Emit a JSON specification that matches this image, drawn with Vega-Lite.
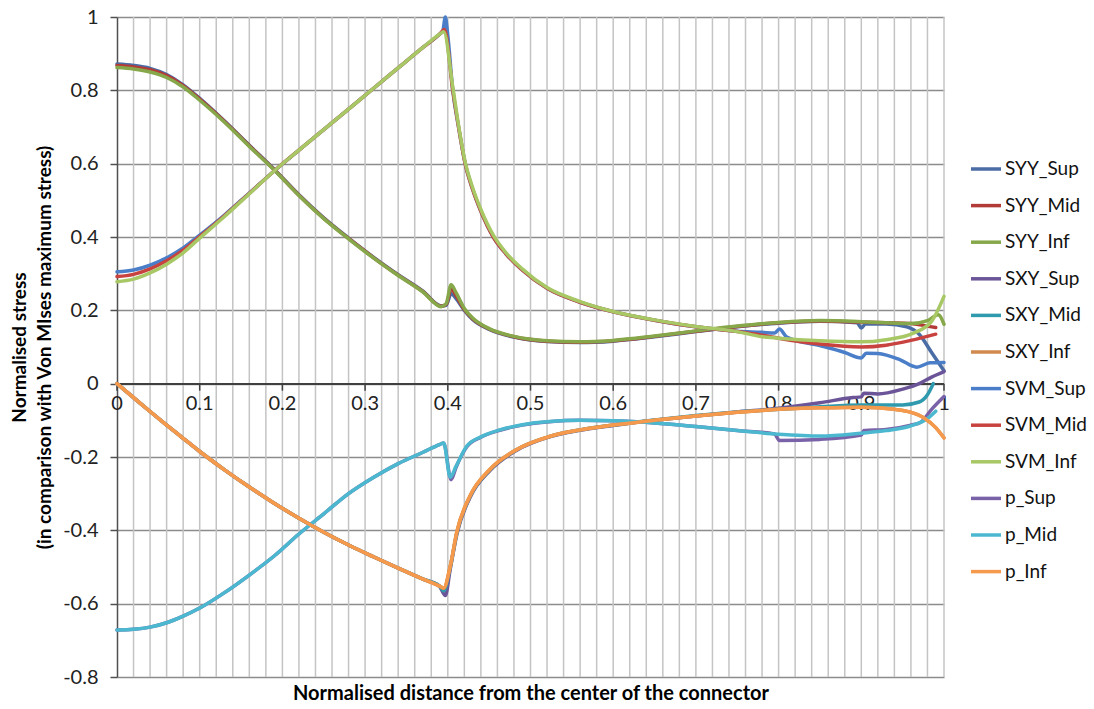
{
"$schema":"https://vega.github.io/schema/vega-lite/v6.json",
"width":827,"height":660,
"autosize":{"type":"none"},
"padding":{"left":117,"top":17,"right":150,"bottom":32},
"background":"white",
"config":{"view":{"stroke":null},"font":"Lato",
"legend":{"orient":"none","legendX":852,"legendY":135,"labelFont":"Lato","labelFontSize":19,"labelColor":"#111111","symbolType":"stroke","symbolStrokeWidth":3.5,"symbolSize":900,"rowPadding":9.6,"labelOffset":2,"padding":0}},
"datasets":{
"grid":[{"x":0.02},{"x":0.04},{"x":0.06},{"x":0.08},{"x":0.1},{"x":0.12},{"x":0.14},{"x":0.16},{"x":0.18},{"x":0.2},{"x":0.22},{"x":0.24},{"x":0.26},{"x":0.28},{"x":0.3},{"x":0.32},{"x":0.34},{"x":0.36},{"x":0.38},{"x":0.4},{"x":0.42},{"x":0.44},{"x":0.46},{"x":0.48},{"x":0.5},{"x":0.52},{"x":0.54},{"x":0.56},{"x":0.58},{"x":0.6},{"x":0.62},{"x":0.64},{"x":0.66},{"x":0.68},{"x":0.7},{"x":0.72},{"x":0.74},{"x":0.76},{"x":0.78},{"x":0.8},{"x":0.82},{"x":0.84},{"x":0.86},{"x":0.88},{"x":0.9},{"x":0.92},{"x":0.94},{"x":0.96},{"x":0.98},{"x":1}],
"ticks":[{"x":0,"label":"0"},{"x":0.1,"label":"0.1"},{"x":0.2,"label":"0.2"},{"x":0.3,"label":"0.3"},{"x":0.4,"label":"0.4"},{"x":0.5,"label":"0.5"},{"x":0.6,"label":"0.6"},{"x":0.7,"label":"0.7"},{"x":0.8,"label":"0.8"},{"x":0.9,"label":"0.9"},{"x":1,"label":"1"}],
"lines":[
{"s":"SYY_Sup","x":0,"y":0.872},{"s":"SYY_Sup","x":0.02,"y":0.868},{"s":"SYY_Sup","x":0.04,"y":0.86},{"s":"SYY_Sup","x":0.06,"y":0.843},{"s":"SYY_Sup","x":0.08,"y":0.815},{"s":"SYY_Sup","x":0.1,"y":0.778},{"s":"SYY_Sup","x":0.13,"y":0.716},{"s":"SYY_Sup","x":0.16,"y":0.65},{"s":"SYY_Sup","x":0.19,"y":0.585},{"s":"SYY_Sup","x":0.22,"y":0.515},{"s":"SYY_Sup","x":0.25,"y":0.452},{"s":"SYY_Sup","x":0.28,"y":0.397},{"s":"SYY_Sup","x":0.31,"y":0.345},{"s":"SYY_Sup","x":0.34,"y":0.297},{"s":"SYY_Sup","x":0.37,"y":0.252},{"s":"SYY_Sup","x":0.392,"y":0.212},{"s":"SYY_Sup","x":0.398,"y":0.214},{"s":"SYY_Sup","x":0.404,"y":0.245},{"s":"SYY_Sup","x":0.41,"y":0.232},{"s":"SYY_Sup","x":0.42,"y":0.2},{"s":"SYY_Sup","x":0.43,"y":0.175},{"s":"SYY_Sup","x":0.45,"y":0.148},{"s":"SYY_Sup","x":0.48,"y":0.127},{"s":"SYY_Sup","x":0.52,"y":0.115},{"s":"SYY_Sup","x":0.56,"y":0.112},{"s":"SYY_Sup","x":0.6,"y":0.116},{"s":"SYY_Sup","x":0.65,"y":0.128},{"s":"SYY_Sup","x":0.7,"y":0.142},{"s":"SYY_Sup","x":0.75,"y":0.155},{"s":"SYY_Sup","x":0.8,"y":0.165},{"s":"SYY_Sup","x":0.85,"y":0.17},{"s":"SYY_Sup","x":0.895,"y":0.166},{"s":"SYY_Sup","x":0.9,"y":0.152},{"s":"SYY_Sup","x":0.905,"y":0.163},{"s":"SYY_Sup","x":0.93,"y":0.163},{"s":"SYY_Sup","x":0.955,"y":0.155},{"s":"SYY_Sup","x":0.97,"y":0.135},{"s":"SYY_Sup","x":0.985,"y":0.085},{"s":"SYY_Sup","x":1,"y":0.035},
{"s":"SYY_Mid","x":0,"y":0.868},{"s":"SYY_Mid","x":0.02,"y":0.864},{"s":"SYY_Mid","x":0.04,"y":0.856},{"s":"SYY_Mid","x":0.06,"y":0.84},{"s":"SYY_Mid","x":0.08,"y":0.813},{"s":"SYY_Mid","x":0.1,"y":0.776},{"s":"SYY_Mid","x":0.13,"y":0.715},{"s":"SYY_Mid","x":0.16,"y":0.649},{"s":"SYY_Mid","x":0.19,"y":0.584},{"s":"SYY_Mid","x":0.22,"y":0.514},{"s":"SYY_Mid","x":0.25,"y":0.451},{"s":"SYY_Mid","x":0.28,"y":0.396},{"s":"SYY_Mid","x":0.31,"y":0.344},{"s":"SYY_Mid","x":0.34,"y":0.296},{"s":"SYY_Mid","x":0.37,"y":0.251},{"s":"SYY_Mid","x":0.392,"y":0.211},{"s":"SYY_Mid","x":0.398,"y":0.216},{"s":"SYY_Mid","x":0.404,"y":0.258},{"s":"SYY_Mid","x":0.41,"y":0.24},{"s":"SYY_Mid","x":0.42,"y":0.202},{"s":"SYY_Mid","x":0.43,"y":0.177},{"s":"SYY_Mid","x":0.45,"y":0.149},{"s":"SYY_Mid","x":0.48,"y":0.128},{"s":"SYY_Mid","x":0.52,"y":0.116},{"s":"SYY_Mid","x":0.56,"y":0.113},{"s":"SYY_Mid","x":0.6,"y":0.117},{"s":"SYY_Mid","x":0.65,"y":0.129},{"s":"SYY_Mid","x":0.7,"y":0.143},{"s":"SYY_Mid","x":0.75,"y":0.156},{"s":"SYY_Mid","x":0.8,"y":0.166},{"s":"SYY_Mid","x":0.85,"y":0.171},{"s":"SYY_Mid","x":0.9,"y":0.168},{"s":"SYY_Mid","x":0.93,"y":0.166},{"s":"SYY_Mid","x":0.96,"y":0.164},{"s":"SYY_Mid","x":0.975,"y":0.159},{"s":"SYY_Mid","x":0.99,"y":0.153},
{"s":"SYY_Inf","x":0,"y":0.862},{"s":"SYY_Inf","x":0.02,"y":0.858},{"s":"SYY_Inf","x":0.04,"y":0.85},{"s":"SYY_Inf","x":0.06,"y":0.835},{"s":"SYY_Inf","x":0.08,"y":0.809},{"s":"SYY_Inf","x":0.1,"y":0.773},{"s":"SYY_Inf","x":0.13,"y":0.713},{"s":"SYY_Inf","x":0.16,"y":0.647},{"s":"SYY_Inf","x":0.19,"y":0.583},{"s":"SYY_Inf","x":0.22,"y":0.513},{"s":"SYY_Inf","x":0.25,"y":0.45},{"s":"SYY_Inf","x":0.28,"y":0.395},{"s":"SYY_Inf","x":0.31,"y":0.343},{"s":"SYY_Inf","x":0.34,"y":0.295},{"s":"SYY_Inf","x":0.37,"y":0.25},{"s":"SYY_Inf","x":0.392,"y":0.21},{"s":"SYY_Inf","x":0.398,"y":0.218},{"s":"SYY_Inf","x":0.404,"y":0.27},{"s":"SYY_Inf","x":0.41,"y":0.248},{"s":"SYY_Inf","x":0.42,"y":0.205},{"s":"SYY_Inf","x":0.43,"y":0.179},{"s":"SYY_Inf","x":0.45,"y":0.15},{"s":"SYY_Inf","x":0.48,"y":0.129},{"s":"SYY_Inf","x":0.52,"y":0.117},{"s":"SYY_Inf","x":0.56,"y":0.114},{"s":"SYY_Inf","x":0.6,"y":0.118},{"s":"SYY_Inf","x":0.65,"y":0.13},{"s":"SYY_Inf","x":0.7,"y":0.144},{"s":"SYY_Inf","x":0.75,"y":0.157},{"s":"SYY_Inf","x":0.8,"y":0.167},{"s":"SYY_Inf","x":0.85,"y":0.172},{"s":"SYY_Inf","x":0.9,"y":0.169},{"s":"SYY_Inf","x":0.93,"y":0.166},{"s":"SYY_Inf","x":0.96,"y":0.164},{"s":"SYY_Inf","x":0.98,"y":0.172},{"s":"SYY_Inf","x":0.993,"y":0.188},{"s":"SYY_Inf","x":1,"y":0.162},
{"s":"SXY_Sup","x":0,"y":0},{"s":"SXY_Sup","x":0.02,"y":-0.038},{"s":"SXY_Sup","x":0.04,"y":-0.076},{"s":"SXY_Sup","x":0.06,"y":-0.113},{"s":"SXY_Sup","x":0.08,"y":-0.149},{"s":"SXY_Sup","x":0.1,"y":-0.185},{"s":"SXY_Sup","x":0.13,"y":-0.235},{"s":"SXY_Sup","x":0.16,"y":-0.282},{"s":"SXY_Sup","x":0.19,"y":-0.326},{"s":"SXY_Sup","x":0.22,"y":-0.367},{"s":"SXY_Sup","x":0.25,"y":-0.405},{"s":"SXY_Sup","x":0.28,"y":-0.44},{"s":"SXY_Sup","x":0.31,"y":-0.472},{"s":"SXY_Sup","x":0.34,"y":-0.503},{"s":"SXY_Sup","x":0.37,"y":-0.533},{"s":"SXY_Sup","x":0.39,"y":-0.553},{"s":"SXY_Sup","x":0.397,"y":-0.578},{"s":"SXY_Sup","x":0.403,"y":-0.505},{"s":"SXY_Sup","x":0.411,"y":-0.41},{"s":"SXY_Sup","x":0.427,"y":-0.31},{"s":"SXY_Sup","x":0.451,"y":-0.237},{"s":"SXY_Sup","x":0.483,"y":-0.182},{"s":"SXY_Sup","x":0.523,"y":-0.145},{"s":"SXY_Sup","x":0.56,"y":-0.127},{"s":"SXY_Sup","x":0.6,"y":-0.114},{"s":"SXY_Sup","x":0.65,"y":-0.1},{"s":"SXY_Sup","x":0.7,"y":-0.088},{"s":"SXY_Sup","x":0.75,"y":-0.077},{"s":"SXY_Sup","x":0.8,"y":-0.067},{"s":"SXY_Sup","x":0.85,"y":-0.052},{"s":"SXY_Sup","x":0.89,"y":-0.038},{"s":"SXY_Sup","x":0.9,"y":-0.036},{"s":"SXY_Sup","x":0.903,"y":-0.026},{"s":"SXY_Sup","x":0.92,"y":-0.028},{"s":"SXY_Sup","x":0.95,"y":-0.015},{"s":"SXY_Sup","x":0.97,"y":0},{"s":"SXY_Sup","x":0.985,"y":0.018},{"s":"SXY_Sup","x":1,"y":0.033},
{"s":"SXY_Mid","x":0,"y":0},{"s":"SXY_Mid","x":0.02,"y":-0.038},{"s":"SXY_Mid","x":0.04,"y":-0.076},{"s":"SXY_Mid","x":0.06,"y":-0.113},{"s":"SXY_Mid","x":0.08,"y":-0.149},{"s":"SXY_Mid","x":0.1,"y":-0.185},{"s":"SXY_Mid","x":0.13,"y":-0.235},{"s":"SXY_Mid","x":0.16,"y":-0.282},{"s":"SXY_Mid","x":0.19,"y":-0.326},{"s":"SXY_Mid","x":0.22,"y":-0.367},{"s":"SXY_Mid","x":0.25,"y":-0.405},{"s":"SXY_Mid","x":0.28,"y":-0.44},{"s":"SXY_Mid","x":0.31,"y":-0.472},{"s":"SXY_Mid","x":0.34,"y":-0.503},{"s":"SXY_Mid","x":0.37,"y":-0.533},{"s":"SXY_Mid","x":0.39,"y":-0.552},{"s":"SXY_Mid","x":0.395,"y":-0.565},{"s":"SXY_Mid","x":0.403,"y":-0.5},{"s":"SXY_Mid","x":0.411,"y":-0.406},{"s":"SXY_Mid","x":0.427,"y":-0.307},{"s":"SXY_Mid","x":0.451,"y":-0.235},{"s":"SXY_Mid","x":0.483,"y":-0.18},{"s":"SXY_Mid","x":0.523,"y":-0.144},{"s":"SXY_Mid","x":0.56,"y":-0.126},{"s":"SXY_Mid","x":0.6,"y":-0.113},{"s":"SXY_Mid","x":0.65,"y":-0.099},{"s":"SXY_Mid","x":0.7,"y":-0.087},{"s":"SXY_Mid","x":0.75,"y":-0.077},{"s":"SXY_Mid","x":0.8,"y":-0.07},{"s":"SXY_Mid","x":0.85,"y":-0.063},{"s":"SXY_Mid","x":0.9,"y":-0.058},{"s":"SXY_Mid","x":0.95,"y":-0.058},{"s":"SXY_Mid","x":0.97,"y":-0.05},{"s":"SXY_Mid","x":0.98,"y":-0.03},{"s":"SXY_Mid","x":0.987,"y":0},
{"s":"SXY_Inf","x":0,"y":0},{"s":"SXY_Inf","x":0.02,"y":-0.038},{"s":"SXY_Inf","x":0.04,"y":-0.076},{"s":"SXY_Inf","x":0.06,"y":-0.113},{"s":"SXY_Inf","x":0.08,"y":-0.149},{"s":"SXY_Inf","x":0.1,"y":-0.185},{"s":"SXY_Inf","x":0.13,"y":-0.235},{"s":"SXY_Inf","x":0.16,"y":-0.282},{"s":"SXY_Inf","x":0.19,"y":-0.326},{"s":"SXY_Inf","x":0.22,"y":-0.367},{"s":"SXY_Inf","x":0.25,"y":-0.405},{"s":"SXY_Inf","x":0.28,"y":-0.44},{"s":"SXY_Inf","x":0.31,"y":-0.472},{"s":"SXY_Inf","x":0.34,"y":-0.503},{"s":"SXY_Inf","x":0.37,"y":-0.533},{"s":"SXY_Inf","x":0.39,"y":-0.552},{"s":"SXY_Inf","x":0.395,"y":-0.558},{"s":"SXY_Inf","x":0.403,"y":-0.498},{"s":"SXY_Inf","x":0.411,"y":-0.404},{"s":"SXY_Inf","x":0.427,"y":-0.306},{"s":"SXY_Inf","x":0.451,"y":-0.234},{"s":"SXY_Inf","x":0.483,"y":-0.18},{"s":"SXY_Inf","x":0.523,"y":-0.144},{"s":"SXY_Inf","x":0.56,"y":-0.126},{"s":"SXY_Inf","x":0.6,"y":-0.113},{"s":"SXY_Inf","x":0.65,"y":-0.1},{"s":"SXY_Inf","x":0.7,"y":-0.088},{"s":"SXY_Inf","x":0.75,"y":-0.078},{"s":"SXY_Inf","x":0.8,"y":-0.07},{"s":"SXY_Inf","x":0.85,"y":-0.066},{"s":"SXY_Inf","x":0.9,"y":-0.064},{"s":"SXY_Inf","x":0.94,"y":-0.07},{"s":"SXY_Inf","x":0.96,"y":-0.078},{"s":"SXY_Inf","x":0.975,"y":-0.092},{"s":"SXY_Inf","x":0.99,"y":-0.12},{"s":"SXY_Inf","x":1,"y":-0.148},
{"s":"SVM_Sup","x":0,"y":0.305},{"s":"SVM_Sup","x":0.02,"y":0.31},{"s":"SVM_Sup","x":0.04,"y":0.323},{"s":"SVM_Sup","x":0.06,"y":0.343},{"s":"SVM_Sup","x":0.08,"y":0.37},{"s":"SVM_Sup","x":0.1,"y":0.405},{"s":"SVM_Sup","x":0.13,"y":0.46},{"s":"SVM_Sup","x":0.16,"y":0.52},{"s":"SVM_Sup","x":0.19,"y":0.58},{"s":"SVM_Sup","x":0.22,"y":0.637},{"s":"SVM_Sup","x":0.25,"y":0.693},{"s":"SVM_Sup","x":0.28,"y":0.749},{"s":"SVM_Sup","x":0.31,"y":0.805},{"s":"SVM_Sup","x":0.34,"y":0.861},{"s":"SVM_Sup","x":0.37,"y":0.917},{"s":"SVM_Sup","x":0.39,"y":0.953},{"s":"SVM_Sup","x":0.394,"y":0.962},{"s":"SVM_Sup","x":0.397,"y":1.0},{"s":"SVM_Sup","x":0.4,"y":0.95},{"s":"SVM_Sup","x":0.406,"y":0.8},{"s":"SVM_Sup","x":0.413,"y":0.7},{"s":"SVM_Sup","x":0.421,"y":0.6},{"s":"SVM_Sup","x":0.43,"y":0.53},{"s":"SVM_Sup","x":0.44,"y":0.47},{"s":"SVM_Sup","x":0.455,"y":0.4},{"s":"SVM_Sup","x":0.47,"y":0.355},{"s":"SVM_Sup","x":0.49,"y":0.31},{"s":"SVM_Sup","x":0.52,"y":0.26},{"s":"SVM_Sup","x":0.56,"y":0.222},{"s":"SVM_Sup","x":0.6,"y":0.196},{"s":"SVM_Sup","x":0.65,"y":0.173},{"s":"SVM_Sup","x":0.7,"y":0.155},{"s":"SVM_Sup","x":0.75,"y":0.143},{"s":"SVM_Sup","x":0.78,"y":0.14},{"s":"SVM_Sup","x":0.795,"y":0.138},{"s":"SVM_Sup","x":0.801,"y":0.149},{"s":"SVM_Sup","x":0.81,"y":0.127},{"s":"SVM_Sup","x":0.85,"y":0.104},{"s":"SVM_Sup","x":0.88,"y":0.085},{"s":"SVM_Sup","x":0.9,"y":0.07},{"s":"SVM_Sup","x":0.906,"y":0.083},{"s":"SVM_Sup","x":0.92,"y":0.082},{"s":"SVM_Sup","x":0.947,"y":0.065},{"s":"SVM_Sup","x":0.967,"y":0.045},{"s":"SVM_Sup","x":0.983,"y":0.057},{"s":"SVM_Sup","x":1,"y":0.058},
{"s":"SVM_Mid","x":0,"y":0.292},{"s":"SVM_Mid","x":0.02,"y":0.298},{"s":"SVM_Mid","x":0.04,"y":0.313},{"s":"SVM_Mid","x":0.06,"y":0.335},{"s":"SVM_Mid","x":0.08,"y":0.364},{"s":"SVM_Mid","x":0.1,"y":0.401},{"s":"SVM_Mid","x":0.13,"y":0.458},{"s":"SVM_Mid","x":0.16,"y":0.519},{"s":"SVM_Mid","x":0.19,"y":0.58},{"s":"SVM_Mid","x":0.22,"y":0.637},{"s":"SVM_Mid","x":0.25,"y":0.693},{"s":"SVM_Mid","x":0.28,"y":0.749},{"s":"SVM_Mid","x":0.31,"y":0.805},{"s":"SVM_Mid","x":0.34,"y":0.861},{"s":"SVM_Mid","x":0.37,"y":0.917},{"s":"SVM_Mid","x":0.39,"y":0.953},{"s":"SVM_Mid","x":0.396,"y":0.966},{"s":"SVM_Mid","x":0.406,"y":0.8},{"s":"SVM_Mid","x":0.413,"y":0.7},{"s":"SVM_Mid","x":0.421,"y":0.6},{"s":"SVM_Mid","x":0.43,"y":0.53},{"s":"SVM_Mid","x":0.44,"y":0.47},{"s":"SVM_Mid","x":0.455,"y":0.4},{"s":"SVM_Mid","x":0.47,"y":0.355},{"s":"SVM_Mid","x":0.49,"y":0.31},{"s":"SVM_Mid","x":0.52,"y":0.26},{"s":"SVM_Mid","x":0.56,"y":0.222},{"s":"SVM_Mid","x":0.6,"y":0.196},{"s":"SVM_Mid","x":0.65,"y":0.173},{"s":"SVM_Mid","x":0.7,"y":0.155},{"s":"SVM_Mid","x":0.75,"y":0.142},{"s":"SVM_Mid","x":0.78,"y":0.132},{"s":"SVM_Mid","x":0.8,"y":0.124},{"s":"SVM_Mid","x":0.85,"y":0.108},{"s":"SVM_Mid","x":0.9,"y":0.1},{"s":"SVM_Mid","x":0.93,"y":0.105},{"s":"SVM_Mid","x":0.96,"y":0.118},{"s":"SVM_Mid","x":0.99,"y":0.135},
{"s":"SVM_Inf","x":0,"y":0.278},{"s":"SVM_Inf","x":0.02,"y":0.285},{"s":"SVM_Inf","x":0.04,"y":0.302},{"s":"SVM_Inf","x":0.06,"y":0.326},{"s":"SVM_Inf","x":0.08,"y":0.357},{"s":"SVM_Inf","x":0.1,"y":0.397},{"s":"SVM_Inf","x":0.13,"y":0.456},{"s":"SVM_Inf","x":0.16,"y":0.518},{"s":"SVM_Inf","x":0.19,"y":0.58},{"s":"SVM_Inf","x":0.22,"y":0.637},{"s":"SVM_Inf","x":0.25,"y":0.693},{"s":"SVM_Inf","x":0.28,"y":0.749},{"s":"SVM_Inf","x":0.31,"y":0.805},{"s":"SVM_Inf","x":0.34,"y":0.861},{"s":"SVM_Inf","x":0.37,"y":0.917},{"s":"SVM_Inf","x":0.39,"y":0.953},{"s":"SVM_Inf","x":0.395,"y":0.96},{"s":"SVM_Inf","x":0.406,"y":0.81},{"s":"SVM_Inf","x":0.413,"y":0.705},{"s":"SVM_Inf","x":0.421,"y":0.605},{"s":"SVM_Inf","x":0.43,"y":0.535},{"s":"SVM_Inf","x":0.44,"y":0.475},{"s":"SVM_Inf","x":0.455,"y":0.405},{"s":"SVM_Inf","x":0.47,"y":0.358},{"s":"SVM_Inf","x":0.49,"y":0.313},{"s":"SVM_Inf","x":0.52,"y":0.262},{"s":"SVM_Inf","x":0.56,"y":0.224},{"s":"SVM_Inf","x":0.6,"y":0.197},{"s":"SVM_Inf","x":0.65,"y":0.174},{"s":"SVM_Inf","x":0.7,"y":0.156},{"s":"SVM_Inf","x":0.75,"y":0.142},{"s":"SVM_Inf","x":0.78,"y":0.128},{"s":"SVM_Inf","x":0.8,"y":0.124},{"s":"SVM_Inf","x":0.85,"y":0.117},{"s":"SVM_Inf","x":0.9,"y":0.114},{"s":"SVM_Inf","x":0.93,"y":0.12},{"s":"SVM_Inf","x":0.963,"y":0.138},{"s":"SVM_Inf","x":0.985,"y":0.17},{"s":"SVM_Inf","x":1,"y":0.238},
{"s":"p_Sup","x":0,"y":-0.672},{"s":"p_Sup","x":0.02,"y":-0.67},{"s":"p_Sup","x":0.04,"y":-0.664},{"s":"p_Sup","x":0.06,"y":-0.652},{"s":"p_Sup","x":0.08,"y":-0.634},{"s":"p_Sup","x":0.1,"y":-0.612},{"s":"p_Sup","x":0.13,"y":-0.57},{"s":"p_Sup","x":0.16,"y":-0.522},{"s":"p_Sup","x":0.19,"y":-0.47},{"s":"p_Sup","x":0.22,"y":-0.41},{"s":"p_Sup","x":0.25,"y":-0.355},{"s":"p_Sup","x":0.28,"y":-0.3},{"s":"p_Sup","x":0.31,"y":-0.256},{"s":"p_Sup","x":0.34,"y":-0.218},{"s":"p_Sup","x":0.37,"y":-0.187},{"s":"p_Sup","x":0.39,"y":-0.166},{"s":"p_Sup","x":0.395,"y":-0.162},{"s":"p_Sup","x":0.404,"y":-0.262},{"s":"p_Sup","x":0.41,"y":-0.228},{"s":"p_Sup","x":0.423,"y":-0.172},{"s":"p_Sup","x":0.44,"y":-0.146},{"s":"p_Sup","x":0.463,"y":-0.127},{"s":"p_Sup","x":0.49,"y":-0.113},{"s":"p_Sup","x":0.523,"y":-0.104},{"s":"p_Sup","x":0.56,"y":-0.1},{"s":"p_Sup","x":0.6,"y":-0.101},{"s":"p_Sup","x":0.65,"y":-0.107},{"s":"p_Sup","x":0.7,"y":-0.117},{"s":"p_Sup","x":0.75,"y":-0.128},{"s":"p_Sup","x":0.795,"y":-0.137},{"s":"p_Sup","x":0.801,"y":-0.155},{"s":"p_Sup","x":0.85,"y":-0.152},{"s":"p_Sup","x":0.9,"y":-0.14},{"s":"p_Sup","x":0.903,"y":-0.128},{"s":"p_Sup","x":0.93,"y":-0.125},{"s":"p_Sup","x":0.96,"y":-0.113},{"s":"p_Sup","x":0.972,"y":-0.105},{"s":"p_Sup","x":0.985,"y":-0.07},{"s":"p_Sup","x":1,"y":-0.035},
{"s":"p_Mid","x":0,"y":-0.672},{"s":"p_Mid","x":0.02,"y":-0.67},{"s":"p_Mid","x":0.04,"y":-0.664},{"s":"p_Mid","x":0.06,"y":-0.652},{"s":"p_Mid","x":0.08,"y":-0.634},{"s":"p_Mid","x":0.1,"y":-0.612},{"s":"p_Mid","x":0.13,"y":-0.57},{"s":"p_Mid","x":0.16,"y":-0.522},{"s":"p_Mid","x":0.19,"y":-0.47},{"s":"p_Mid","x":0.22,"y":-0.41},{"s":"p_Mid","x":0.25,"y":-0.355},{"s":"p_Mid","x":0.28,"y":-0.3},{"s":"p_Mid","x":0.31,"y":-0.256},{"s":"p_Mid","x":0.34,"y":-0.218},{"s":"p_Mid","x":0.37,"y":-0.187},{"s":"p_Mid","x":0.39,"y":-0.166},{"s":"p_Mid","x":0.395,"y":-0.162},{"s":"p_Mid","x":0.403,"y":-0.255},{"s":"p_Mid","x":0.41,"y":-0.225},{"s":"p_Mid","x":0.423,"y":-0.17},{"s":"p_Mid","x":0.44,"y":-0.145},{"s":"p_Mid","x":0.463,"y":-0.126},{"s":"p_Mid","x":0.49,"y":-0.112},{"s":"p_Mid","x":0.523,"y":-0.103},{"s":"p_Mid","x":0.56,"y":-0.1},{"s":"p_Mid","x":0.6,"y":-0.101},{"s":"p_Mid","x":0.65,"y":-0.107},{"s":"p_Mid","x":0.7,"y":-0.117},{"s":"p_Mid","x":0.75,"y":-0.128},{"s":"p_Mid","x":0.8,"y":-0.138},{"s":"p_Mid","x":0.85,"y":-0.143},{"s":"p_Mid","x":0.9,"y":-0.135},{"s":"p_Mid","x":0.93,"y":-0.128},{"s":"p_Mid","x":0.96,"y":-0.115},{"s":"p_Mid","x":0.98,"y":-0.095},{"s":"p_Mid","x":0.99,"y":-0.075},
{"s":"p_Inf","x":0,"y":0},{"s":"p_Inf","x":0.02,"y":-0.038},{"s":"p_Inf","x":0.04,"y":-0.076},{"s":"p_Inf","x":0.06,"y":-0.113},{"s":"p_Inf","x":0.08,"y":-0.149},{"s":"p_Inf","x":0.1,"y":-0.185},{"s":"p_Inf","x":0.13,"y":-0.235},{"s":"p_Inf","x":0.16,"y":-0.282},{"s":"p_Inf","x":0.19,"y":-0.326},{"s":"p_Inf","x":0.22,"y":-0.367},{"s":"p_Inf","x":0.25,"y":-0.405},{"s":"p_Inf","x":0.28,"y":-0.44},{"s":"p_Inf","x":0.31,"y":-0.472},{"s":"p_Inf","x":0.34,"y":-0.503},{"s":"p_Inf","x":0.37,"y":-0.533},{"s":"p_Inf","x":0.39,"y":-0.552},{"s":"p_Inf","x":0.395,"y":-0.557},{"s":"p_Inf","x":0.403,"y":-0.497},{"s":"p_Inf","x":0.411,"y":-0.403},{"s":"p_Inf","x":0.427,"y":-0.305},{"s":"p_Inf","x":0.451,"y":-0.233},{"s":"p_Inf","x":0.483,"y":-0.18},{"s":"p_Inf","x":0.523,"y":-0.144},{"s":"p_Inf","x":0.56,"y":-0.126},{"s":"p_Inf","x":0.6,"y":-0.113},{"s":"p_Inf","x":0.65,"y":-0.1},{"s":"p_Inf","x":0.7,"y":-0.088},{"s":"p_Inf","x":0.75,"y":-0.078},{"s":"p_Inf","x":0.8,"y":-0.07},{"s":"p_Inf","x":0.85,"y":-0.066},{"s":"p_Inf","x":0.9,"y":-0.064},{"s":"p_Inf","x":0.94,"y":-0.07},{"s":"p_Inf","x":0.96,"y":-0.078},{"s":"p_Inf","x":0.975,"y":-0.092},{"s":"p_Inf","x":0.99,"y":-0.12},{"s":"p_Inf","x":1,"y":-0.148}
]},
"layer":[
{"data":{"name":"grid"},"mark":{"type":"rule","color":"#c4c4c4","strokeWidth":1.5},"encoding":{"x":{"field":"x","type":"quantitative"}}},
{"data":{"name":"ticks"},"mark":{"type":"rule","color":"#404040","strokeWidth":1.5},"encoding":{"y":{"datum":0,"type":"quantitative"}}},
{"data":{"name":"ticks"},"mark":{"type":"rule","color":"#404040","strokeWidth":1.5},"encoding":{"x":{"field":"x","type":"quantitative"},"y":{"datum":0,"type":"quantitative"},"y2":{"datum":-0.019}}},
{"data":{"name":"ticks"},"mark":{"type":"text","font":"Lato","fontSize":20,"color":"#222222","baseline":"top","dy":10},"encoding":{"x":{"field":"x","type":"quantitative"},"y":{"datum":0,"type":"quantitative"},"text":{"field":"label"}}},
{"data":{"name":"lines"},"mark":{"type":"line","strokeWidth":3.5,"interpolate":"monotone","strokeCap":"round","strokeJoin":"round"},
"encoding":{
"x":{"field":"x","type":"quantitative","scale":{"domain":[0,1],"nice":false,"zero":false},
"axis":{"orient":"bottom","grid":false,"labels":false,"ticks":false,"domain":false,"title":"Normalised distance from the center of the connector","titleFont":"Lato","titleFontSize":20,"titleFontWeight":"bold","titleColor":"#000000","titlePadding":6}},
"y":{"field":"y","type":"quantitative","scale":{"domain":[-0.8,1],"nice":false,"zero":false},
"axis":{"values":[-0.8,-0.6,-0.4,-0.2,0,0.2,0.4,0.6,0.8,1],"grid":true,"gridColor":"#8c8c8c","gridWidth":1.5,"domainColor":"#505050","domainWidth":1.5,"tickColor":"#505050","tickWidth":1.5,"tickSize":7,"labelFont":"Lato","labelFontSize":20,"labelColor":"#222222","labelPadding":12,"labelExpr":"datum.value < 0 ? '-' + format(-datum.value, '~g') : format(datum.value, '~g')","title":["Normalised stress","(in comparison with Von MIses maximum stress)"],"titleFont":"Lato","titleFontSize":19,"titleFontWeight":"bold","titleColor":"#000000","titlePadding":8,"titleLineHeight":25}},
"color":{"field":"s","type":"nominal","title":null,"sort":null,
"scale":{"domain":["SYY_Sup","SYY_Mid","SYY_Inf","SXY_Sup","SXY_Mid","SXY_Inf","SVM_Sup","SVM_Mid","SVM_Inf","p_Sup","p_Mid","p_Inf"],
"range":["#4A6DA6","#B23B38","#86A84A","#6B5598","#2F9AAE","#D18A4C","#4A7EC8","#C8433F","#A8C866","#7A62A8","#4CB8D0","#F59A4C"]}}}}
]}
